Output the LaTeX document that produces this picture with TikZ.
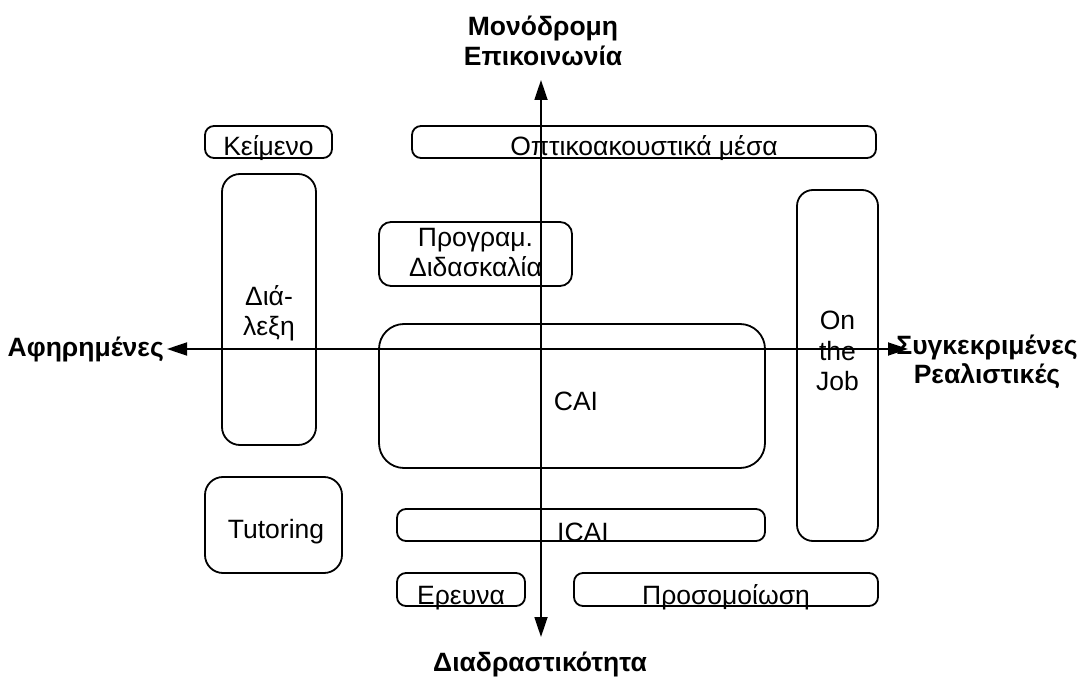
\documentclass[tikz,border=0pt]{standalone}
\usepackage{fontspec}
\setmainfont{Liberation Sans}
\usetikzlibrary{arrows.meta}
\begin{document}
\begin{tikzpicture}[x=1pt,y=-1pt,
  box/.style={draw, line width=1.8pt, rounded corners=#1, inner sep=0pt},
  box/.default=9pt,
  txt/.style={inner sep=0pt, anchor=base, font=\fontsize{26.5}{30}\selectfont},
  lbl/.style={inner sep=0pt, anchor=base, font=\bfseries\fontsize{26.5}{30}\selectfont},
  axis/.style={line width=1.8pt, {Triangle[length=20pt,width=13pt]}-{Triangle[length=20pt,width=13pt]}}]
\useasboundingbox (0,0) rectangle (1080,679);

% boxes
\node[box, minimum width=127pt, minimum height=32pt] (keimeno) at (268.5,142) {};
\node[box, minimum width=464pt, minimum height=32pt] (optiko) at (644,142) {};
\node[box=18pt, minimum width=94pt, minimum height=271pt] (dialexi) at (269,309.5) {};
\node[box=12pt, minimum width=193pt, minimum height=64pt] (program) at (475.5,254) {};
\node[box=25pt, minimum width=386pt, minimum height=144pt] (cai) at (572,396) {};
\node[box=16pt, minimum width=81pt, minimum height=351pt] (onjob) at (837.5,365.5) {};
\node[box=18pt, minimum width=137pt, minimum height=96pt] (tutoring) at (273.5,525) {};
\node[box, minimum width=368pt, minimum height=32pt] (icai) at (581,525) {};
\node[box, minimum width=128pt, minimum height=33pt] (ereuna) at (461,589.5) {};
\node[box, minimum width=304pt, minimum height=33pt] (prosom) at (726,589.5) {};

% box texts
\node[txt] (tkeimeno) at (268.5,156) {Κείμενο};
\node[txt] (toptiko) at (644,156) {Οπτικοακουστικά μέσα};
\node[txt] (tdia) at (269,306) {Διά-};
\node[txt] (tlexi) at (269,336) {λεξη};
\node[txt] (tprog) at (475.5,247) {Προγραμ.};
\node[txt] (tdid) at (475.5,277) {Διδασκαλία};
\node[txt] (ton) at (837.5,330) {On};
\node[txt] (tthe) at (837.5,360) {the};
\node[txt] (tjob) at (837.5,390) {Job};
\node[txt] (tcai) at (576,410) {CAI};
\node[txt] (ttut) at (276,538) {Tutoring};
\node[txt] (ticai) at (583,541) {ICAI};
\node[txt] (tereuna) at (461,604) {Ερευνα};
\node[txt] (tprosom) at (726,604) {Προσομοίωση};

% axes
\coordinate (up) at (541,80);
\coordinate (down) at (541,637);
\coordinate (left) at (167,349);
\coordinate (right) at (908,349);
\draw[axis] (down) -- (up);
\draw[axis] (left) -- (right);

% axis labels
\node[lbl] (mono1) at (543,36) {Μονόδρομη};
\node[lbl] (mono2) at (543,66) {Επικοινωνία};
\node[lbl, anchor=base east] (afir) at (164,356) {Αφηρημένες};
\node[lbl] (syg1) at (987,355) {Συγκεκριμένες};
\node[lbl] (syg2) at (987,383) {Ρεαλιστικές};
\node[lbl] (diad) at (540,671) {Διαδραστικότητα};
\end{tikzpicture}
\end{document}
